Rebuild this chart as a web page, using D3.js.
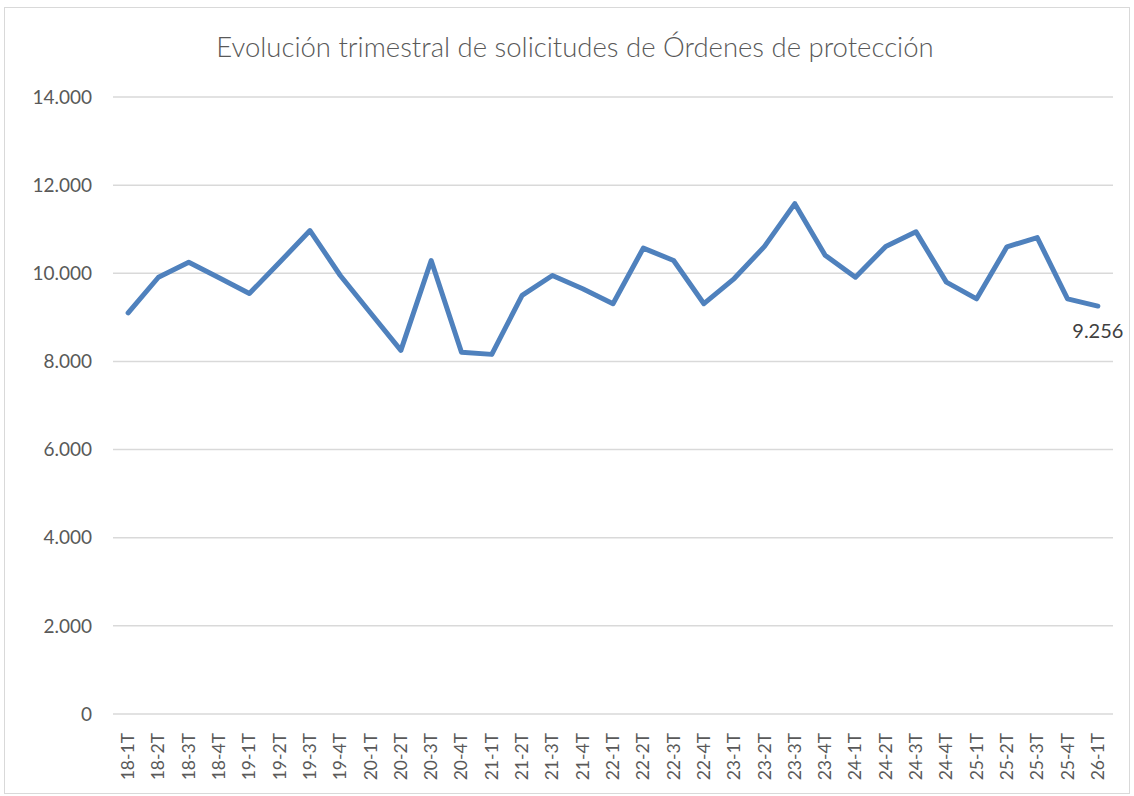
<!DOCTYPE html>
<html>
<head>
<meta charset="utf-8">
<script src="https://cdn.jsdelivr.net/npm/d3@7"></script>
<style>
  body { margin: 0; background: #fff; }
  text { font-family: Lato, "Open Sans", sans-serif; }
</style>
</head>
<body>
<svg id="chart"></svg>
<script>
// quarters on the x axis
let quarters = ['18-1T','18-2T','18-3T','18-4T','19-1T','19-2T','19-3T','19-4T',
  '20-1T','20-2T','20-3T','20-4T','21-1T','21-2T','21-3T','21-4T',
  '22-1T','22-2T','22-3T','22-4T','23-1T','23-2T','23-3T','23-4T',
  '24-1T','24-2T','24-3T','24-4T','25-1T','25-2T','25-3T','25-4T','26-1T'];
// protection order requests per quarter
let requests = [9100, 9910, 10250, 9900, 9540, 10250, 10970, 9950,
  9100, 8250, 10290, 8210, 8160, 9500, 9950, 9650,
  9310, 10570, 10290, 9310, 9880, 10610, 11580, 10410,
  9910, 10610, 10940, 9800, 9420, 10600, 10810, 9420, 9256];
let yTicks = [0, 2000, 4000, 6000, 8000, 10000, 12000, 14000];

let widthSVG = 1134, heightSVG = 796;
let margins = { top: 97, bottom: 82, left: 113, right: 21 };
let width = widthSVG - margins.left - margins.right;
let height = heightSVG - margins.top - margins.bottom;

let svg = d3.select('svg#chart')
  .attr('width', widthSVG)
  .attr('height', heightSVG);

// chart border
svg.append('rect')
  .attr('x', 4.5).attr('y', 7.5)
  .attr('width', 1125).attr('height', 786)
  .style('fill', 'none')
  .style('stroke', '#d9d9d9')
  .style('stroke-width', 1);

// title
svg.append('text')
  .text('Evolución trimestral de solicitudes de Órdenes de protección')
  .attr('x', 575).attr('y', 57)
  .style('text-anchor', 'middle')
  .style('font-size', '27.5px')
  .style('font-weight', 300)
  .style('fill', '#595959');

let g = svg.append('g')
  .attr('transform', `translate(${margins.left}, ${margins.top})`);

let x = d3.scaleBand().domain(quarters).range([0, width]);
let y = d3.scaleLinear().domain([0, 14000]).range([height, 0]);

// thousands with a dot
let fmt = d => d3.format(',')(d).replace(/,/g, '.');

// gridlines
g.selectAll('line.grid')
  .data(yTicks)
  .enter()
  .append('line')
  .classed('grid', true)
  .attr('x1', 0).attr('x2', width)
  .attr('y1', d => y(d)).attr('y2', d => y(d))
  .style('stroke', '#d9d9d9')
  .style('stroke-width', '1.5px');

// y labels
g.selectAll('text.ylab')
  .data(yTicks)
  .enter()
  .append('text')
  .classed('ylab', true)
  .text(d => fmt(d))
  .attr('x', -21)
  .attr('y', d => y(d))
  .attr('dy', '0.35em')
  .style('text-anchor', 'end')
  .style('font-size', '19px')
  .style('fill', '#595959');

// x labels, rotated
g.selectAll('text.xlab')
  .data(quarters)
  .enter()
  .append('text')
  .classed('xlab', true)
  .text(d => d)
  .attr('transform', d => `translate(${x(d) + x.bandwidth() / 2 + 6}, ${height + 19}) rotate(-90)`)
  .style('text-anchor', 'end')
  .style('font-size', '17.5px')
  .style('fill', '#595959');

// the line
let line = d3.line()
  .x((d, i) => x(quarters[i]) + x.bandwidth() / 2)
  .y(d => y(d));

g.append('path')
  .datum(requests)
  .attr('d', line)
  .style('fill', 'none')
  .style('stroke', '#4f81bd')
  .style('stroke-width', '5px')
  .style('stroke-linejoin', 'round')
  .style('stroke-linecap', 'round');

// label for the last value
let last = requests.length - 1;
g.append('text')
  .text(fmt(requests[last]))
  .attr('x', x(quarters[last]) + x.bandwidth() / 2)
  .attr('y', y(requests[last]) + 32)
  .style('text-anchor', 'middle')
  .style('font-size', '20px')
  .style('fill', '#404040');
</script>
</body>
</html>
